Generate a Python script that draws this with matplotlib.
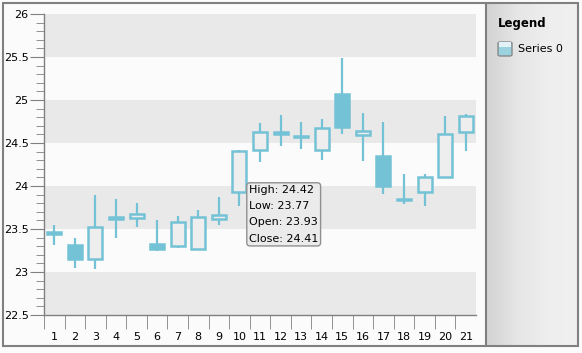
import numpy as np
import matplotlib
matplotlib.use("Agg")
import matplotlib.pyplot as plt
from matplotlib.patches import Rectangle, FancyBboxPatch

# donnees
days  = list(range(1, 22))
opens = [23.44, 23.31, 23.15, 23.62, 23.63, 23.32, 23.30, 23.27, 23.62, 23.93, 24.42,
         24.61, 24.58, 24.42, 25.07, 24.59, 24.35, 23.84, 23.93, 24.10, 24.63]
closes = [23.46, 23.15, 23.52, 23.64, 23.68, 23.27, 23.58, 23.64, 23.66, 24.41, 24.63,
          24.63, 24.57, 24.68, 24.69, 24.64, 24.00, 23.85, 24.10, 24.61, 24.81]
highs = [23.55, 23.40, 23.90, 23.85, 23.80, 23.60, 23.65, 23.72, 23.87, 24.42, 24.73,
         24.82, 24.75, 24.78, 25.49, 24.85, 24.74, 24.14, 24.14, 24.81, 24.84]
lows  = [23.31, 23.05, 23.03, 23.40, 23.52, 23.24, 23.28, 23.26, 23.55, 23.77, 24.28,
         24.47, 24.43, 24.30, 24.61, 24.29, 23.91, 23.79, 23.77, 24.09, 24.41]
yticks = [22.5, 23, 23.5, 24, 24.5, 25, 25.5, 26]
ytick_labels = ['22.5', '23', '23.5', '24', '24.5', '25', '25.5', '26']
series_name = 'Series 0'
tip_idx = 9  # bougie 10

W, H = 582, 353
blue = '#74c2d5'
gris = '#808080'

fig = plt.figure(figsize=(W/100, H/100), dpi=100)
fig.patch.set_facecolor('#fbfbfb')

def px(x0, y0, x1, y1):
    return [x0/W, 1 - y1/H, (x1-x0)/W, (y1-y0)/H]

# fond du panneau de legende (degrade)
lax = fig.add_axes(px(487, 3, 578, 346))
grad = np.linspace(0, 1, 100)[None, :]
lax.imshow(grad, aspect='auto', cmap=matplotlib.colors.LinearSegmentedColormap.from_list(
    'g', ['#d3d3d3', '#e6e6e6', '#eeeeee', '#f0f0f0']), extent=[0, 1, 0, 1])
lax.set_axis_off()

# zone du graphique
ax = fig.add_axes(px(44, 14, 476, 315))
ax.set_xlim(0.5, 21.5)
ax.set_ylim(22.5, 26)

for i in range(len(yticks) - 1):
    c = '#e9e9e9' if i % 2 == 0 else '#fbfbfb'
    ax.axhspan(yticks[i], yticks[i+1], color=c, zorder=0, lw=0)

o = np.array(opens); c = np.array(closes)
bot = np.minimum(o, c)
hgt = np.maximum(np.abs(c - o), 0.005)
ax.vlines(days, lows, highs, color=blue, lw=1.6, zorder=2)
fills = [blue if cl < op else '#eeeeee' for op, cl in zip(opens, closes)]
ax.bar(days, hgt, bottom=bot, width=0.68, color=fills, edgecolor=blue,
       linewidth=1.8, zorder=3)

# axes
for s in ['top', 'right']:
    ax.spines[s].set_visible(False)
for s in ['left', 'bottom']:
    ax.spines[s].set_color(gris)
    ax.spines[s].set_linewidth(1)

ax.set_yticks(yticks)
ax.set_yticklabels(ytick_labels)
ax.set_yticks(np.arange(22.5, 26.01, 0.1), minor=True)
ax.tick_params(axis='y', which='major', length=10, color=gris, labelsize=8, pad=1)
ax.tick_params(axis='y', which='minor', length=6, color=gris)

ax.set_xticks(days)
ax.set_xticklabels([str(d) for d in days])
ax.set_xticks(np.arange(0.5, 21.0, 1.0), minor=True)
ax.tick_params(axis='x', which='major', length=0, labelsize=8, pad=12)
ax.tick_params(axis='x', which='minor', length=10, color=gris)

# infobulle
tip = 'High: {:.2f}\nLow: {:.2f}\nOpen: {:.2f}\nClose: {:.2f}'.format(
    highs[tip_idx], lows[tip_idx], opens[tip_idx], closes[tip_idx])
fig.text(249/W, 1 - 185/H, tip, fontsize=8, va='top', ha='left', linespacing=1.78,
         bbox=dict(boxstyle='round,pad=0.2,rounding_size=0.3', fc='#ebebeb', ec='#909090', lw=1))

# legende
fig.text(498/W, 1 - 23/H, 'Legend', fontsize=8.5, fontweight='bold', va='center', ha='left')
fig.patches.append(FancyBboxPatch((498/W, 1 - 56/H), 14/W, 14/H,
                                  boxstyle='round,pad=0,rounding_size=0.004',
                                  transform=fig.transFigure, fc='#9ad2e0', ec='#8a8a8a', lw=1))
fig.patches.append(Rectangle((499/W, 1 - 47/H), 12/W, 5/H, transform=fig.transFigure,
                             fc='#e3f2f6', ec='none'))
fig.text(518/W, 1 - 49/H, series_name, fontsize=8, va='center', ha='left')

# cadres
fig.patches.append(Rectangle((3/W, 1 - 346/H), 575/W, 343/H, transform=fig.transFigure,
                             fill=False, ec=gris, lw=1.5))
fig.patches.append(Rectangle((486/W, 1 - 346/H), 0, 343/H, transform=fig.transFigure,
                             fill=False, ec=gris, lw=1.5))

fig.savefig('out.png', dpi=100, facecolor=fig.get_facecolor())
